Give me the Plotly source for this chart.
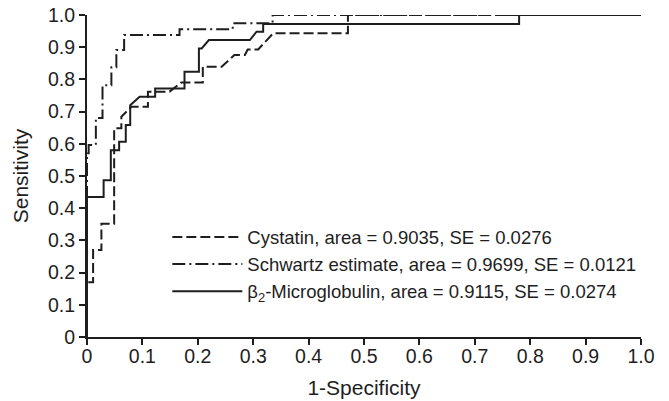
import plotly.graph_objects as go

# Cystatin ROC curve (1-specificity, sensitivity)
cys_x = [0, 0, 0.011, 0.011, 0.026, 0.026, 0.049, 0.049, 0.062, 0.062, 0.080, 0.110, 0.110,
         0.149, 0.170, 0.209, 0.209, 0.243, 0.266, 0.285, 0.290, 0.309, 0.336, 0.471, 0.471, 1.0]
cys_y = [0, 0.17, 0.17, 0.27, 0.27, 0.352, 0.352, 0.648, 0.648, 0.684, 0.715, 0.715, 0.762,
         0.762, 0.79, 0.79, 0.839, 0.839, 0.876, 0.876, 0.893, 0.893, 0.943, 0.943, 1.0, 1.0]

# Schwartz estimate ROC curve
sch_x = [0, 0, 0.003, 0.003, 0.016, 0.016, 0.028, 0.028, 0.044, 0.044, 0.053, 0.053, 0.067,
         0.067, 0.167, 0.167, 0.263, 0.263, 0.335, 0.335, 1.0]
sch_y = [0, 0.571, 0.571, 0.596, 0.596, 0.680, 0.680, 0.782, 0.782, 0.838, 0.838, 0.891, 0.891,
         0.938, 0.938, 0.956, 0.956, 0.974, 0.974, 1.0, 1.0]

# beta2-Microglobulin ROC curve
b2m_x = [0, 0, 0.030, 0.030, 0.043, 0.043, 0.058, 0.058, 0.070, 0.070, 0.078, 0.078, 0.095,
         0.123, 0.123, 0.176, 0.176, 0.202, 0.202, 0.207, 0.220, 0.294, 0.306, 0.318, 0.318,
         0.780, 0.780, 1.0]
b2m_y = [0, 0.435, 0.435, 0.487, 0.487, 0.58, 0.58, 0.606, 0.606, 0.658, 0.658, 0.72, 0.746,
         0.746, 0.772, 0.772, 0.824, 0.824, 0.896, 0.896, 0.922, 0.922, 0.948, 0.948, 0.972,
         0.972, 1.0, 1.0]

names = ["Cystatin, area = 0.9035, SE = 0.0276",
         "Schwartz estimate, area = 0.9699, SE = 0.0121",
         "β<sub>2</sub>-Microglobulin, area = 0.9115, SE = 0.0274"]

tick_vals = [0, 0.1, 0.2, 0.3, 0.4, 0.5, 0.6, 0.7, 0.8, 0.9, 1.0]
tick_text = ["0", "0.1", "0.2", "0.3", "0.4", "0.5", "0.6", "0.7", "0.8", "0.9", "1.0"]

INK = "#1e1e1e"
FONT = "Liberation Sans, Arial, sans-serif"

fig = go.Figure()
fig.add_trace(go.Scatter(x=cys_x, y=cys_y, mode="lines", name=names[0], cliponaxis=False,
                         line=dict(color=INK, width=2, dash="10px,4px")))
fig.add_trace(go.Scatter(x=sch_x, y=sch_y, mode="lines", name=names[1], cliponaxis=False,
                         line=dict(color=INK, width=2, dash="13px,4px,2px,4px")))
fig.add_trace(go.Scatter(x=b2m_x, y=b2m_y, mode="lines", name=names[2], cliponaxis=False,
                         line=dict(color=INK, width=2)))

axis_common = dict(
    range=[0, 1], tickmode="array", tickvals=tick_vals, ticktext=tick_text,
    showgrid=False, zeroline=False, showline=True, linecolor=INK, linewidth=2,
    ticks="outside", ticklen=6, tickwidth=1.5, tickcolor=INK, automargin=False,
    tickfont=dict(family=FONT, size=19.5, color=INK),
)

fig.update_layout(
    width=669, height=401,
    margin=dict(l=87, r=28, t=15, b=64, autoexpand=False),
    paper_bgcolor="white", plot_bgcolor="white",
    font=dict(family=FONT, size=18.5, color=INK),
    xaxis=dict(**axis_common, ticklabelstandoff=-5,
               title=dict(text="1-Specificity", standoff=14,
                          font=dict(family=FONT, size=21, color=INK))),
    yaxis=dict(**axis_common,
               title=dict(text="Sensitivity", standoff=14,
                          font=dict(family=FONT, size=21, color=INK))),
    showlegend=True,
    legend=dict(x=0.145, y=0.368, xanchor="left", yanchor="top", bgcolor="rgba(0,0,0,0)",
                font=dict(family=FONT, size=18.5, color=INK), itemwidth=70, tracegroupgap=0),
)

fig.write_html("out.html")
